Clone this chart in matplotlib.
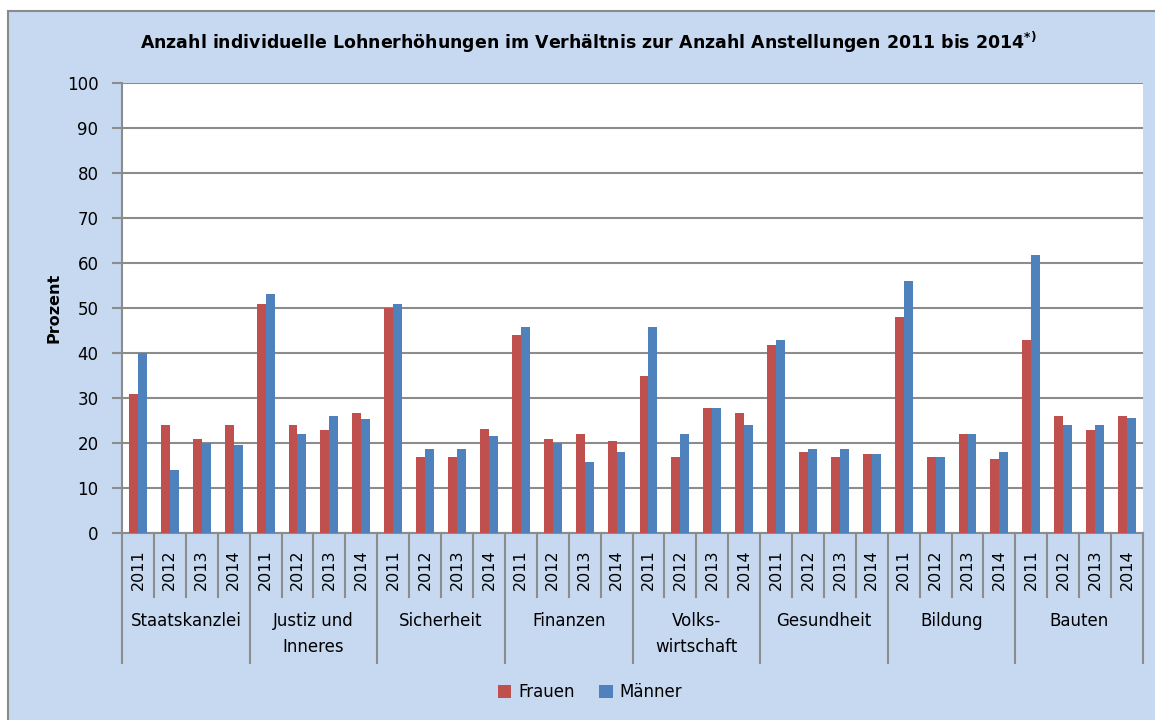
import matplotlib
matplotlib.use("Agg")
import matplotlib.pyplot as plt
import matplotlib.transforms as mtransforms
from matplotlib.patches import Rectangle
import numpy as np

groups = ["Staatskanzlei", "Justiz und\nInneres", "Sicherheit", "Finanzen",
          "Volks-\nwirtschaft", "Gesundheit", "Bildung", "Bauten"]
years = ["2011", "2012", "2013", "2014"]

frauen = [31, 24, 21, 24,
          51, 24, 22.8, 26.7,
          50, 17, 17, 23.1,
          44, 20.9, 22.1, 20.5,
          34.8, 17, 27.8, 26.7,
          41.7, 18, 17, 17.6,
          48, 17, 22, 16.5,
          42.8, 26.1, 22.8, 26.1]
maenner = [40, 14, 20, 19.5,
           53.2, 22, 26.1, 25.3,
           51, 18.7, 18.7, 21.6,
           45.7, 20, 15.8, 18,
           45.7, 22.1, 27.8, 24,
           42.8, 18.7, 18.7, 17.6,
           56, 17, 22, 18,
           61.8, 24, 24, 25.6]

red = "#c0504d"
blue = "#4f81bd"
bg = "#c6d9f1"
grid_c = "#8c8c8c"

W, H = 1155, 720
fig = plt.figure(figsize=(W / 100, H / 100), dpi=100, facecolor="white")
fig.patches.append(Rectangle((8 / W, -0.01), 1.0, 1.01 - 11 / H, transform=fig.transFigure,
                             facecolor=bg, edgecolor="#8a8a8a", linewidth=1.5, zorder=-10))

ax = fig.add_axes([122 / W, 1 - 533 / H, (1143 - 122) / W, (533 - 83) / H])
ax.set_facecolor("white")

x = np.arange(len(frauen))
bw = 0.28
ax.bar(x - bw / 2, frauen, bw, color=red, label="Frauen", zorder=3)
ax.bar(x + bw / 2, maenner, bw, color=blue, label="Männer", zorder=3)

ax.set_xlim(-0.5, len(frauen) - 0.5)
ax.set_ylim(0, 100)
ax.set_yticks(range(0, 101, 10))
ax.yaxis.grid(True, color=grid_c, linewidth=1.5, zorder=0)
ax.tick_params(axis="y", length=7, width=1.5, color=grid_c, labelsize=12, pad=10)
ax.set_xticks([])
for s in ["top", "right"]:
    ax.spines[s].set_visible(False)
ax.spines["left"].set_color(grid_c)
ax.spines["left"].set_linewidth(1.5)
ax.spines["bottom"].set_color(grid_c)
ax.spines["bottom"].set_linewidth(1.5)
ax.set_ylabel("Prozent", fontsize=11.5, fontweight="bold", labelpad=4)

trans = mtransforms.blended_transform_factory(ax.transData, ax.transAxes)
ah = 450.0
# separators under the axis
for i in range(len(frauen) + 1):
    b = i - 0.5
    low = -130 / ah if i % 4 == 0 else -64 / ah
    ax.plot([b, b], [0, low], transform=trans, color=grid_c, lw=1.5, clip_on=False)

for i in range(len(frauen)):
    ax.text(i, -37 / ah, years[i % 4], transform=trans, rotation=90,
            ha="center", va="center", fontsize=11.5)

for g, name in enumerate(groups):
    ax.text(g * 4 + 1.5, -79 / ah, name, transform=trans, ha="center", va="top",
            fontsize=12, linespacing=1.6)

fig.text(588 / W, 1 - 42 / H,
         r"Anzahl individuelle Lohnerhöhungen im Verhältnis zur Anzahl Anstellungen 2011 bis 2014$^{\mathbf{*)}}$",
         ha="center", va="center", fontsize=12.5, fontweight="bold")

fig.legend(loc="center", bbox_to_anchor=(590 / W, 1 - 692 / H), ncol=2, frameon=False,
           fontsize=12, handlelength=0.8, handleheight=0.8, handletextpad=0.4,
           columnspacing=1.5)

fig.savefig("out.png", dpi=100, facecolor=fig.get_facecolor())
